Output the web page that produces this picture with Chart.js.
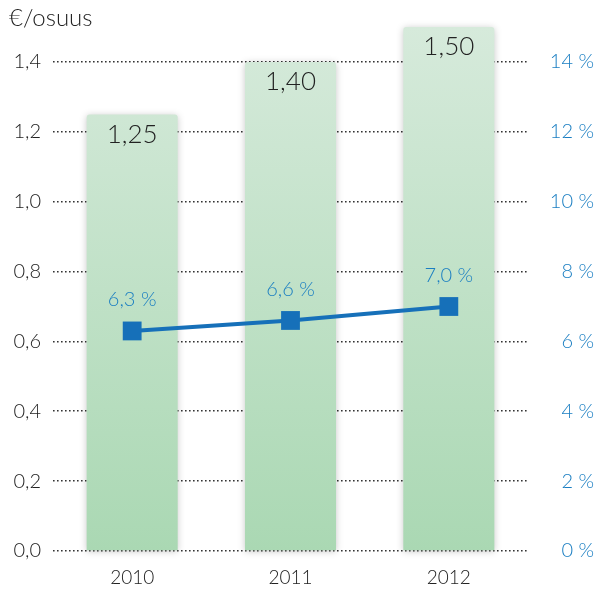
<!DOCTYPE html>
<html>
<head>
<meta charset="utf-8">
<script src="https://cdn.jsdelivr.net/npm/chart.js@4/dist/chart.umd.min.js"></script>
<style>
html,body{margin:0;padding:0;background:#fff;}
#wrap{width:598px;height:589px;position:relative;}
</style>
</head>
<body>
<div id="wrap"><canvas id="c" width="598" height="589"></canvas></div>
<script>
const categories = ['2010', '2011', '2012'];
const dividend = [1.25, 1.40, 1.50];
const yieldPct = [6.3, 6.6, 7.0];
const leftTicks = [0, 0.2, 0.4, 0.6, 0.8, 1.0, 1.2, 1.4];
const rightTicks = [0, 2, 4, 6, 8, 10, 12, 14];
const unitLabel = '€/osuus';

const FONT = "Lato, 'Open Sans', 'DejaVu Sans', sans-serif";
const BLUE_TEXT = '#1a7ec2';
const fmt = (v, d) => v.toFixed(d).replace('.', ',');

const ctx = document.getElementById('c').getContext('2d');

function barGradient(context) {
  const chart = context.chart;
  const area = chart.chartArea;
  if (!area) return '#c2e2c8';
  const ys = chart.scales.y;
  const g = chart.ctx.createLinearGradient(0, ys.getPixelForValue(1.5), 0, ys.getPixelForValue(0));
  g.addColorStop(0, '#d6eadb');
  g.addColorStop(1, '#aad8b3');
  return g;
}

const shadowPlugin = {
  id: 'barShadow',
  beforeDatasetDraw(chart, args) {
    if (args.index === 0) {
      chart.ctx.save();
      chart.ctx.shadowColor = 'rgba(0,0,0,0.22)';
      chart.ctx.shadowBlur = 7;
      chart.ctx.shadowOffsetX = 0;
      chart.ctx.shadowOffsetY = 1;
    }
  },
  afterDatasetDraw(chart, args) {
    if (args.index === 0) chart.ctx.restore();
  }
};

const labelPlugin = {
  id: 'valueLabels',
  afterDatasetsDraw(chart) {
    const c = chart.ctx;
    c.save();
    const m0 = chart.getDatasetMeta(0);
    c.fillStyle = '#222';
    c.font = `300 26px ${FONT}`;
    c.textAlign = 'center';
    c.textBaseline = 'middle';
    m0.data.forEach((el, i) => {
      c.fillText(fmt(dividend[i], 2), el.x, el.y + 20);
    });
    const m1 = chart.getDatasetMeta(1);
    c.fillStyle = BLUE_TEXT;
    c.font = `300 20px ${FONT}`;
    m1.data.forEach((el, i) => {
      c.fillText(fmt(yieldPct[i], 1) + ' %', el.x, el.y - 31);
    });
    c.fillStyle = '#222';
    c.font = `300 24px ${FONT}`;
    c.textAlign = 'left';
    c.fillText(unitLabel, 9, 18);
    c.restore();
  }
};

new Chart(ctx, {
  data: {
    labels: categories,
    datasets: [
      {
        type: 'bar',
        data: dividend,
        yAxisID: 'y',
        backgroundColor: barGradient,
        borderWidth: 0,
        borderRadius: { topLeft: 3, topRight: 3 },
        borderSkipped: 'bottom',
        barPercentage: 0.575,
        categoryPercentage: 1.0,
        clip: false,
        order: 2
      },
      {
        type: 'line',
        data: yieldPct,
        yAxisID: 'y1',
        borderColor: '#1670b9',
        backgroundColor: '#1670b9',
        borderWidth: 4,
        pointStyle: 'rect',
        pointRadius: 13.3,
        pointHoverRadius: 13.3,
        pointBorderWidth: 0,
        tension: 0,
        clip: false,
        order: 1
      }
    ]
  },
  options: {
    responsive: false,
    animation: false,
    events: [],
    layout: { padding: { top: 62, bottom: 0, left: 0, right: 4 } },
    plugins: { legend: { display: false }, tooltip: { enabled: false }, title: { display: false } },
    scales: {
      x: {
        offset: true,
        afterFit(s) { s.height = 38; },
        grid: { display: false, drawTicks: false },
        border: { display: false },
        ticks: { color: '#222', font: { family: FONT, size: 19, weight: 300 }, padding: 15 }
      },
      y: {
        position: 'left',
        min: 0, max: 1.4,
        afterBuildTicks(s) { s.ticks = leftTicks.map(v => ({ value: v })); },
        afterFit(s) { s.width = 53; },
        grid: { color: '#333', lineWidth: 1.6, drawTicks: false },
        border: { display: false, dash: [1.6, 2.4] },
        ticks: {
          color: '#222',
          font: { family: FONT, size: 20, weight: 300 },
          padding: 12,
          callback: v => fmt(v, 1)
        }
      },
      y1: {
        position: 'right',
        min: 0, max: 14,
        afterBuildTicks(s) { s.ticks = rightTicks.map(v => ({ value: v })); },
        afterFit(s) { s.width = 66; },
        grid: { display: false, drawTicks: false },
        border: { display: false },
        ticks: {
          color: BLUE_TEXT,
          crossAlign: 'far',
          font: { family: FONT, size: 20, weight: 300 },
          padding: 22,
          callback: v => v + ' %'
        }
      }
    }
  },
  plugins: [shadowPlugin, labelPlugin]
});
</script>
</body>
</html>
